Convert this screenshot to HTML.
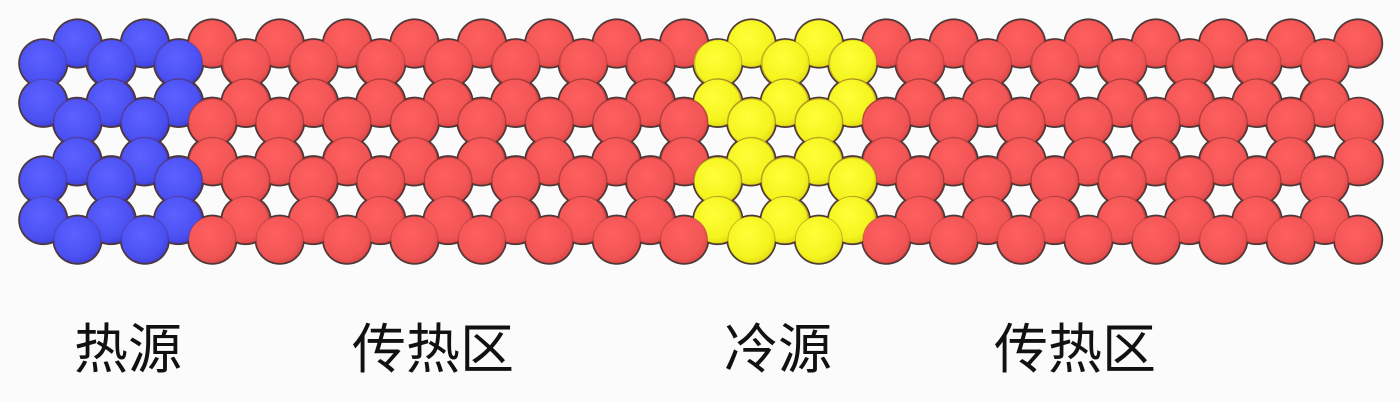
<!DOCTYPE html>
<html><head><meta charset="utf-8">
<style>
html,body{margin:0;padding:0;background:#fbfbfb;}
#wrap{position:relative;width:1400px;height:402px;overflow:hidden;background:#fbfbfb;}
svg{position:absolute;left:0;top:0;}
.lbl{position:absolute;top:318px;font-family:"Liberation Sans","Noto Sans CJK SC",sans-serif;font-size:54px;line-height:64px;color:#111;white-space:nowrap;}
</style></head>
<body>
<div id="wrap">
<svg id="svg" width="1400" height="402">
<defs>
<radialGradient id="gb" cx="0.42" cy="0.38" r="0.7"><stop offset="0" stop-color="#5c61ff"/><stop offset="0.7" stop-color="#4b50f2"/><stop offset="1" stop-color="#3a3dcf"/></radialGradient>
<radialGradient id="gr" cx="0.42" cy="0.38" r="0.7"><stop offset="0" stop-color="#ff5f5f"/><stop offset="0.7" stop-color="#f25555"/><stop offset="1" stop-color="#d84444"/></radialGradient>
<radialGradient id="gy" cx="0.42" cy="0.38" r="0.7"><stop offset="0" stop-color="#ffff3a"/><stop offset="0.7" stop-color="#f4f41e"/><stop offset="1" stop-color="#dad512"/></radialGradient>
</defs>
<g id="outlines"></g>
<g id="atoms"></g>
</svg>
<div class="lbl" style="left:74px">热源</div>
<div class="lbl" style="left:352px">传热区</div>
<div class="lbl" style="left:724px">冷源</div>
<div class="lbl" style="left:994px">传热区</div>
</div>
<script>
const holeRows = [0, 1, 2];
const holeCount = 19;
const extraAtoms = [[19, 0], [19, 2]];
const dx = 67.4, dy = 58.6, x0 = 77.5, y0 = 83, R = 39.5, r = 23.5;
const key = (x, y) => Math.round(x) + ',' + Math.round(y);
const map = new Map();
function add(x, y) { map.set(key(x, y), [x, y]); }
holeRows.forEach(row => {
  for (let k = 0; k < holeCount; k++) {
    const cx = x0 + k * dx + (row % 2 ? dx / 2 : 0);
    const cy = y0 + row * dy;
    for (let a = 0; a < 6; a++) {
      const t = a * Math.PI / 3;
      add(cx + R * Math.sin(t), cy - R * Math.cos(t));
    }
  }
});
extraAtoms.forEach(([k, row]) => {
  const cx = x0 + k * dx, cy = y0 + row * dy;
  add(cx, row === 0 ? cy - R : cy + R);
});
const atoms = [...map.values()].sort((a, b) => a[1] - b[1] || a[0] - b[0]);
const go = document.getElementById('outlines');
const g = document.getElementById('atoms');
const NS = 'http://www.w3.org/2000/svg';
atoms.forEach(([x, y]) => {
  const o = document.createElementNS(NS, 'circle');
  o.setAttribute('cx', x.toFixed(1));
  o.setAttribute('cy', y.toFixed(1));
  o.setAttribute('r', r + 1.6);
  o.setAttribute('fill', '#4a3c3c');
  
  
  go.appendChild(o);
});
atoms.forEach(([x, y]) => {
  const c = document.createElementNS(NS, 'circle');
  let fill = 'url(#gr)', nm = 'red-atom';
  if (x < 195) { fill = 'url(#gb)'; nm = 'blue-atom'; }
  else if (x > 700 && x < 870) { fill = 'url(#gy)'; nm = 'yellow-atom'; }
  c.setAttribute('cx', x.toFixed(1));
  c.setAttribute('cy', y.toFixed(1));
  c.setAttribute('r', r);
  c.setAttribute('fill', fill);
  c.setAttribute('stroke', 'rgba(90,30,30,0.28)');
  c.setAttribute('stroke-width', '1');
  
  
  g.appendChild(c);
});
</script>
</body></html>
